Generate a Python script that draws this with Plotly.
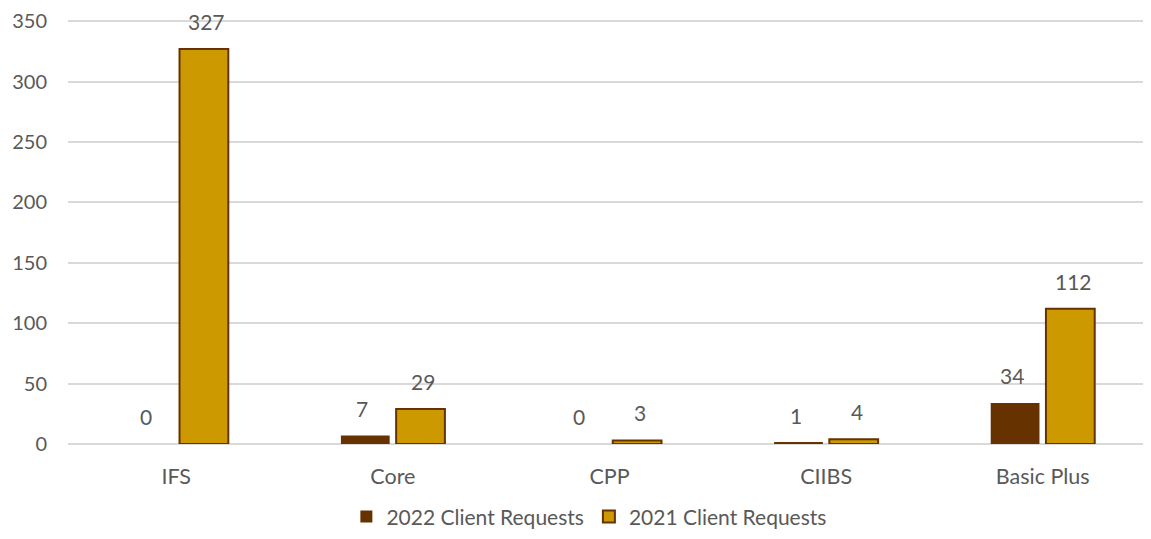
import plotly.graph_objects as go

categories = ["IFS", "Core", "CPP", "CIIBS", "Basic Plus"]
series_2022 = [0, 7, 0, 1, 34]
series_2021 = [327, 29, 3, 4, 112]
name_2022 = "2022 Client Requests"
name_2021 = "2021 Client Requests"
y_ticks = [0, 50, 100, 150, 200, 250, 300, 350]

DARK = "#663300"
GOLD = "#CC9900"
TXT = "#595959"
FONT = "Lato"

fig = go.Figure()
fig.add_trace(go.Bar(x=categories, y=series_2022, name=name_2022,
                     marker=dict(color=DARK, line=dict(color=DARK, width=0))))
fig.add_trace(go.Bar(x=categories, y=series_2021, name=name_2021,
                     marker=dict(color=GOLD, line=dict(color=DARK, width=2))))

annotations = []
for vals, shift in ((series_2022, -30.5), (series_2021, 30.5)):
    for c, v in zip(categories, vals):
        annotations.append(dict(x=c, y=v, xref="x", yref="y", text=str(v),
                                showarrow=False, xshift=shift, yshift=13,
                                yanchor="bottom",
                                font=dict(family=FONT, size=21, color=TXT)))

# page body has an 8px margin, so the figure is sized to fit inside the window
fig.update_layout(
    width=1135, height=523,
    margin=dict(l=60, r=0, t=12, b=87, autoexpand=False),
    paper_bgcolor="white", plot_bgcolor="white",
    barmode="group", bargap=0.49, bargroupgap=0.117,
    font=dict(family=FONT, size=21, color=TXT),
    annotations=annotations,
    showlegend=True,
    legend=dict(orientation="h", x=0.485, xanchor="center", y=-0.172, yanchor="middle",
                font=dict(family=FONT, size=21, color=TXT), traceorder="normal",
                itemwidth=30),
    xaxis=dict(showgrid=False, showline=False, ticks="", ticklabelstandoff=17,
               automargin=False, range=[-0.5, 4.463],
               tickfont=dict(family=FONT, size=21.5, color=TXT)),
    yaxis=dict(range=[0, 351], tickvals=y_ticks, showgrid=True, gridcolor="#D9D9D9",
               gridwidth=1.5, zeroline=True, zerolinecolor="#D9D9D9", zerolinewidth=1.5,
               showline=False, ticks="", ticklabelstandoff=20, automargin=False,
               ticklabeloverflow="allow",
               tickfont=dict(family=FONT, size=20, color=TXT)),
)

fig.write_html("out.html")
